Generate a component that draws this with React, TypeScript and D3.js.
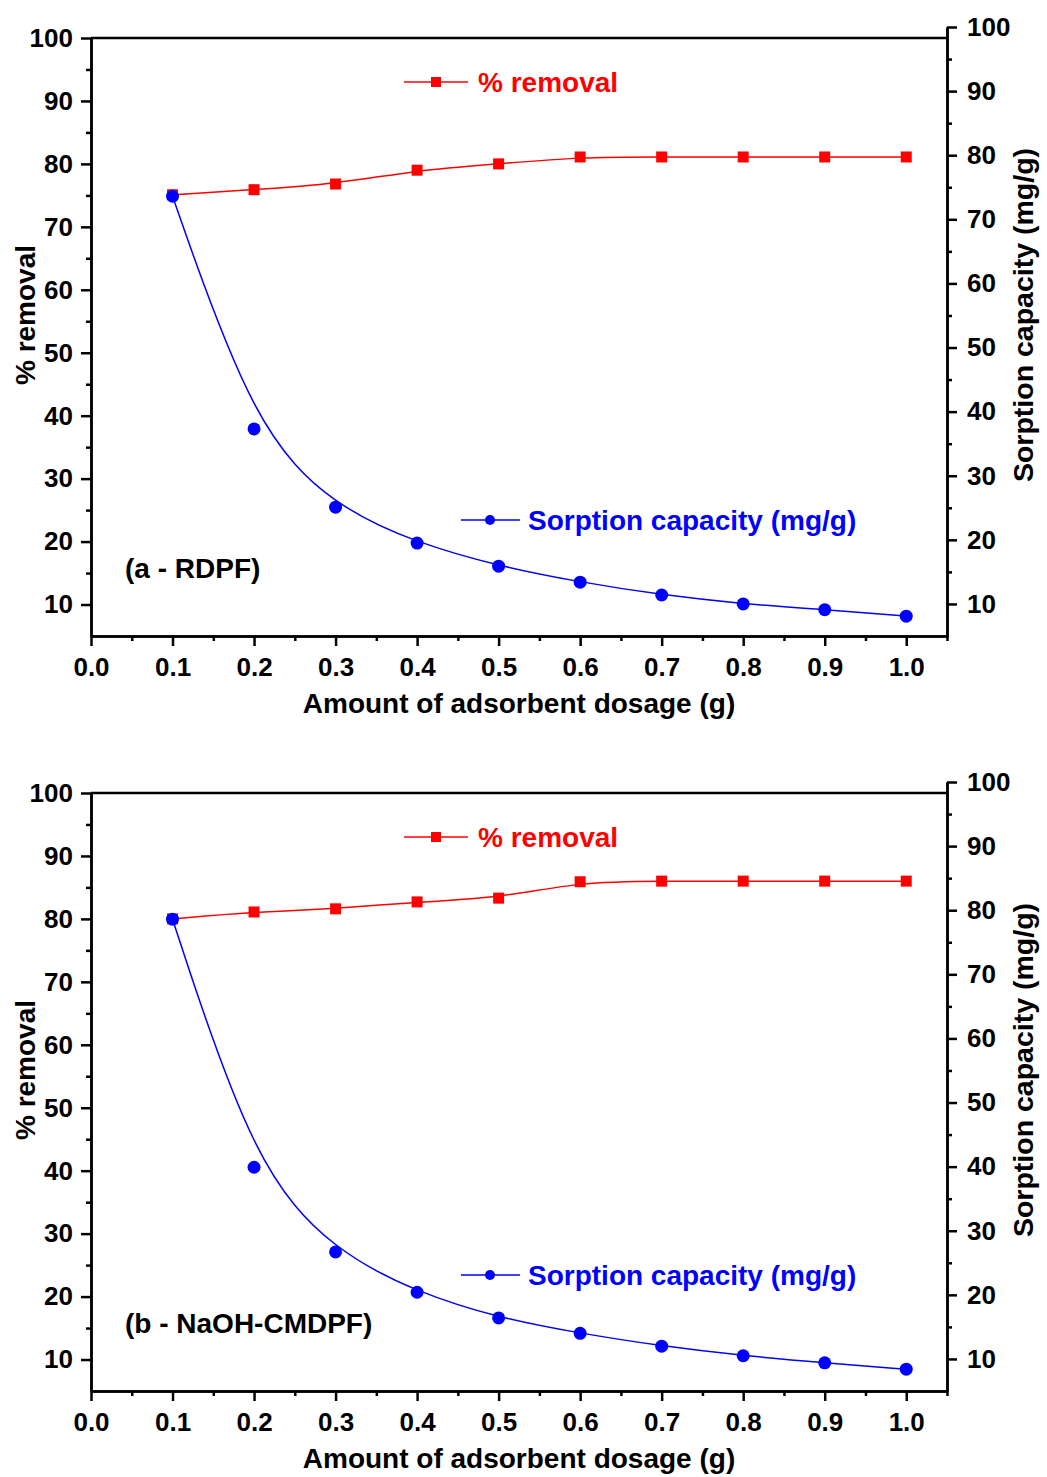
import React, { useEffect, useRef } from "react";
import * as d3 from "d3";

const dosage = [0.1, 0.2, 0.3, 0.4, 0.5, 0.6, 0.7, 0.8, 0.9, 1.0];
const removalA = [75.1, 75.9, 76.8, 79.0, 80.0, 81.1, 81.1, 81.1, 81.1, 81.1];
const capacityA = [73.6, 37.3, 25.1, 19.5, 15.9, 13.4, 11.4, 10.0, 9.1, 8.1];
const removalB = [80.0, 81.1, 81.6, 82.7, 83.3, 85.9, 86.0, 86.0, 86.0, 86.0];
const capacityB = [78.6, 39.9, 26.7, 20.4, 16.4, 14.0, 12.0, 10.5, 9.4, 8.4];
const panelLabels = ["(a - RDPF)", "(b - NaOH-CMDPF)"];

const yMajor = [10, 20, 30, 40, 50, 60, 70, 80, 90, 100];
const yMinor = [15, 25, 35, 45, 55, 65, 75, 85, 95];
const xMajor = [0, 0.1, 0.2, 0.3, 0.4, 0.5, 0.6, 0.7, 0.8, 0.9, 1.0];
const xMinor = [0.05, 0.15, 0.25, 0.35, 0.45, 0.55, 0.65, 0.75, 0.85, 0.95, 1.05];

const FONT = "'Liberation Sans', Arial, sans-serif";

const App = () => {
  const ref = useRef<SVGSVGElement>(null);

  useEffect(() => {
    const svg = d3.select(ref.current);
    svg.selectAll("*").remove();

    const left = 91;
    const right = 947;
    const panels = [
      { removal: removalA, capacity: capacityA, label: panelLabels[0] },
      { removal: removalB, capacity: capacityB, label: panelLabels[1] },
    ];

    panels.forEach((p, i) => {
      const off = i * 755;
      const g = svg.append("g").attr("transform", `translate(0,${off})`);
      const bottom = 636;
      const top = 38;
      const rTop = 27;

      const x = d3.scaleLinear().domain([0, 1.05]).range([left, right]);
      const yL = d3.scaleLinear().domain([5, 100]).range([bottom, top]);
      const yR = d3.scaleLinear().domain([5, 100]).range([bottom, rTop]);

      const styleAxis = (sel: any) => {
        sel.select(".domain").attr("stroke", "#000").attr("stroke-width", 2.5);
        sel.selectAll(".tick line").attr("stroke", "#000").attr("stroke-width", 2.5);
        sel
          .selectAll(".tick text")
          .attr("font-family", FONT)
          .attr("font-weight", "bold")
          .attr("font-size", 26)
          .attr("fill", "#000");
      };

      // top frame
      g.append("line")
        .attr("x1", left)
        .attr("x2", right)
        .attr("y1", top)
        .attr("y2", top)
        .attr("stroke", "#000")
        .attr("stroke-width", 2.5);

      // minor ticks
      g.append("g")
        .attr("transform", `translate(${left},0)`)
        .call(d3.axisLeft(yL).tickValues(yMinor).tickSize(5).tickSizeOuter(0).tickFormat(() => ""))
        .call(styleAxis);
      g.append("g")
        .attr("transform", `translate(${right},0)`)
        .call(d3.axisRight(yR).tickValues(yMinor).tickSize(5).tickSizeOuter(0).tickFormat(() => ""))
        .call(styleAxis);
      g.append("g")
        .attr("transform", `translate(0,${bottom})`)
        .call(d3.axisBottom(x).tickValues(xMinor).tickSize(5).tickSizeOuter(0).tickFormat(() => ""))
        .call(styleAxis);

      // major axes
      g.append("g")
        .attr("transform", `translate(${left},0)`)
        .call(d3.axisLeft(yL).tickValues(yMajor).tickSize(10).tickPadding(8).tickSizeOuter(0))
        .call(styleAxis);
      g.append("g")
        .attr("transform", `translate(${right},0)`)
        .call(d3.axisRight(yR).tickValues(yMajor).tickSize(10).tickPadding(10).tickSizeOuter(0))
        .call(styleAxis);
      g.append("g")
        .attr("transform", `translate(0,${bottom})`)
        .call(
          d3
            .axisBottom(x)
            .tickValues(xMajor)
            .tickSize(10)
            .tickPadding(12)
            .tickSizeOuter(0)
            .tickFormat(d3.format(".1f"))
        )
        .call(styleAxis);

      // titles
      const title = (t: string, tx: number, ty: number, rot: number, fs: number) =>
        g
          .append("text")
          .attr("transform", `translate(${tx},${ty}) rotate(${rot})`)
          .attr("text-anchor", "middle")
          .attr("font-family", FONT)
          .attr("font-weight", "bold")
          .attr("font-size", fs)
          .attr("fill", "#000")
          .text(t);
      title("Amount of adsorbent dosage (g)", 519, 713, 0, 28);
      title("% removal", 35, 315, -90, 28);
      title("Sorption capacity (mg/g)", 1033, 315, -90, 28.5);

      // series
      const pts = dosage.map((d, k) => ({ x: d, r: p.removal[k], c: p.capacity[k] }));
      const lineR = d3
        .line<any>()
        .x((d) => x(d.x))
        .y((d) => yL(d.r))
        .curve(d3.curveBasis);
      const lineC = d3
        .line<any>()
        .x((d) => x(d.x))
        .y((d) => yR(d.c))
        .curve(d3.curveBasis);

      g.append("path").attr("d", lineR(pts)).attr("fill", "none").attr("stroke", "#ff0000").attr("stroke-width", 1.5);
      g.append("path").attr("d", lineC(pts)).attr("fill", "none").attr("stroke", "#0000ff").attr("stroke-width", 1.5);

      g.selectAll("rect.m")
        .data(pts)
        .join("rect")
        .attr("x", (d) => x(d.x) - 5.5)
        .attr("y", (d) => yL(d.r) - 5.5)
        .attr("width", 11)
        .attr("height", 11)
        .attr("fill", "#ff0000");
      g.selectAll("circle.m")
        .data(pts)
        .join("circle")
        .attr("cx", (d) => x(d.x))
        .attr("cy", (d) => yR(d.c))
        .attr("r", 6.5)
        .attr("fill", "#0000ff");

      // legend
      const legText = (t: string, tx: number, ty: number, color: string) =>
        g
          .append("text")
          .attr("x", tx)
          .attr("y", ty)
          .attr("font-family", FONT)
          .attr("font-weight", "bold")
          .attr("font-size", 28)
          .attr("fill", color)
          .text(t);

      g.append("line").attr("x1", 404).attr("x2", 468).attr("y1", 82).attr("y2", 82).attr("stroke", "#ff0000").attr("stroke-width", 1.5);
      g.append("rect").attr("x", 431).attr("y", 77).attr("width", 10).attr("height", 10).attr("fill", "#ff0000");
      legText("% removal", 478, 92, "#ff0000");

      g.append("line").attr("x1", 461).attr("x2", 520).attr("y1", 520).attr("y2", 520).attr("stroke", "#0000ff").attr("stroke-width", 1.5);
      g.append("circle").attr("cx", 490).attr("cy", 520).attr("r", 5).attr("fill", "#0000ff");
      legText("Sorption capacity (mg/g)", 528, 530, "#0000ff");

      legText(p.label, 125, 578, "#000");
    });
  }, []);

  return (
    <svg
      ref={ref}
      width={1047}
      height={1477}
      style={{ position: "absolute", left: 0, top: 0, background: "#fff" }}
    />
  );
};

export default App;
